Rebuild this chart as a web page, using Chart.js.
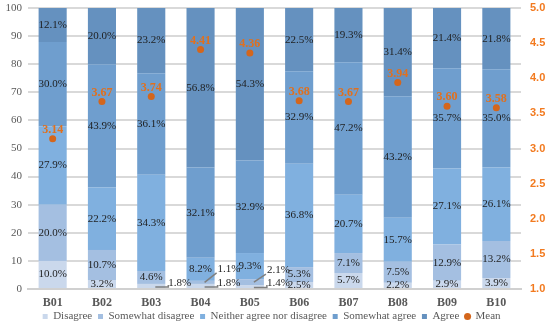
<!DOCTYPE html>
<html>
<head>
<meta charset="utf-8">
<script src="https://cdn.jsdelivr.net/npm/chart.js@4.4.1/dist/chart.umd.min.js"></script>
<style>
html,body{margin:0;padding:0;background:#fff;}
#wrap{width:550px;height:326px;}
</style>
</head>
<body>
<div id="wrap"><canvas id="c" width="550" height="326"></canvas></div>
<script>
const categories = ["B01","B02","B03","B04","B05","B06","B07","B08","B09","B10"];
const disagree         = [10.0, 3.2, 1.8, 1.8, 1.4, 2.5, 5.7, 2.2, 2.9, 3.9];
const somewhatDisagree = [20.0,10.7, 4.6, 1.1, 2.1, 5.3, 7.1, 7.5,12.9,13.2];
const neither          = [27.9,22.2,34.3, 8.2, 9.3,36.8,20.7,15.7,27.1,26.1];
const somewhatAgree    = [30.0,43.9,36.1,32.1,32.9,32.9,47.2,43.2,35.7,35.0];
const agree            = [12.1,20.0,23.2,56.8,54.3,22.5,19.3,31.4,21.4,21.8];
const mean             = [3.14,3.67,3.74,4.41,4.36,3.68,3.67,3.94,3.60,3.58];
const leftTicks  = [0,10,20,30,40,50,60,70,80,90,100];
const rightTicks = [1.0,1.5,2.0,2.5,3.0,3.5,4.0,4.5,5.0];

const serif = "'Liberation Serif', 'DejaVu Serif', serif";

const labelPlugin = {
  id: 'labels',
  afterDatasetsDraw(chart) {
    const ctx = chart.ctx;
    ctx.save();
    chart.data.datasets.forEach((ds, i) => {
      const meta = chart.getDatasetMeta(i);
      if (meta.hidden) return;
      if (ds.type === 'line') {
        ctx.font = "bold 12px " + serif;
        ctx.fillStyle = '#e0701e';
        ctx.textAlign = 'center';
        ctx.textBaseline = 'middle';
        meta.data.forEach((el, j) => {
          ctx.fillText(ds.data[j].toFixed(2), el.x, el.y - 9);
        });
        return;
      }
      ctx.font = "11px " + serif;
      ctx.fillStyle = '#1e1e1e';
      ctx.textBaseline = 'middle';
      meta.data.forEach((el, j) => {
        const v = ds.data[j];
        const txt = v.toFixed(1) + '%';
        const cy = (el.y + el.base) / 2;
        if (v < 2.2 && i < 2) {
          const right = el.x + el.width / 2;
          const ly = el.base - 5 - i * 10;
          ctx.strokeStyle = '#7f7f7f';
          ctx.lineWidth = 1.5;
          ctx.beginPath();
          if (i === 0) {
            ctx.moveTo(right - 10, cy + 1);
            ctx.lineTo(right + 3, cy + 1);
            ctx.lineTo(right + 3, ly + 2);
          } else {
            ctx.moveTo(right - 10, cy);
            ctx.lineTo(right + 2, ly + 4);
          }
          ctx.stroke();
          ctx.textAlign = 'left';
          ctx.fillText(txt, right + 3, ly);
        } else {
          ctx.textAlign = 'center';
          ctx.fillText(txt, el.x, cy);
        }
      });
    });
    ctx.restore();
  }
};

const barCommon = { type: 'bar', yAxisID: 'y', order: 1, barPercentage: 0.57, categoryPercentage: 1.0, borderWidth: 0 };

function fixVPad(scale) { scale.paddingTop = 8; scale.paddingBottom = 0; }

new Chart(document.getElementById('c'), {
  data: {
    labels: categories,
    datasets: [
      Object.assign({ label: 'Disagree', data: disagree, backgroundColor: '#cad8ec' }, barCommon),
      Object.assign({ label: 'Somewhat disagree', data: somewhatDisagree, backgroundColor: '#a4bfe1' }, barCommon),
      Object.assign({ label: 'Neither agree nor disagree', data: neither, backgroundColor: '#80b0df' }, barCommon),
      Object.assign({ label: 'Somewhat agree', data: somewhatAgree, backgroundColor: '#6f9ece' }, barCommon),
      Object.assign({ label: 'Agree', data: agree, backgroundColor: '#6591bf' }, barCommon),
      { type: 'line', label: 'Mean', data: mean, yAxisID: 'y2', order: 0, showLine: false,
        pointStyle: 'circle', pointRadius: 3.5, pointBackgroundColor: '#d4661c', pointBorderWidth: 0,
        backgroundColor: '#d4661c', borderColor: '#d4661c' }
    ]
  },
  options: {
    responsive: false,
    animation: false,
    layout: { padding: { left: 0, right: 4, top: 0, bottom: -6 } },
    plugins: {
      tooltip: { enabled: false },
      legend: {
        position: 'bottom',
        labels: {
          usePointStyle: true,
          boxWidth: 5, boxHeight: 5,
          padding: 3,
          color: '#595959',
          font: { family: serif, size: 11 },
          sort: (a, b) => a.datasetIndex - b.datasetIndex,
          generateLabels(chart) {
            const items = Chart.defaults.plugins.legend.labels.generateLabels(chart);
            items.forEach(it => {
              const ds = chart.data.datasets[it.datasetIndex];
              it.pointStyle = ds.type === 'line' ? 'circle' : 'rect';
              it.lineWidth = 0;
              it.strokeStyle = 'transparent';
              it.text = it.text + ' ';
            });
            return items;
          }
        }
      }
    },
    scales: {
      x: {
        stacked: true,
        grid: { display: false, drawTicks: false },
        border: { display: true, color: '#d0d0d0', width: 2 },
        afterFit(scale) { scale.height = 19; },
        ticks: { color: '#595959', font: { family: serif, size: 12, weight: 'bold' }, padding: 7 }
      },
      y: {
        stacked: true,
        position: 'left',
        min: 0, max: 100,
        afterBuildTicks(scale) { scale.ticks = leftTicks.map(v => ({ value: v })); },
        afterFit(scale) { scale.width = 28; fixVPad(scale); },
        grid: { color: '#d9d9d9', lineWidth: 2, drawTicks: false },
        border: { display: false },
        ticks: { color: '#595959', font: { family: serif, size: 11 }, padding: 6 }
      },
      y2: {
        stacked: false,
        position: 'right',
        min: 1, max: 5,
        afterBuildTicks(scale) { scale.ticks = rightTicks.map(v => ({ value: v })); },
        afterFit(scale) { scale.width = 25; fixVPad(scale); },
        grid: { display: false, drawTicks: false },
        border: { display: false },
        ticks: { color: '#f27a1f', font: { family: "'Liberation Sans', sans-serif", size: 11, weight: 'bold' }, padding: 9,
                 callback: v => Number(v).toFixed(1) }
      }
    }
  },
  plugins: [labelPlugin]
});
</script>
</body>
</html>
